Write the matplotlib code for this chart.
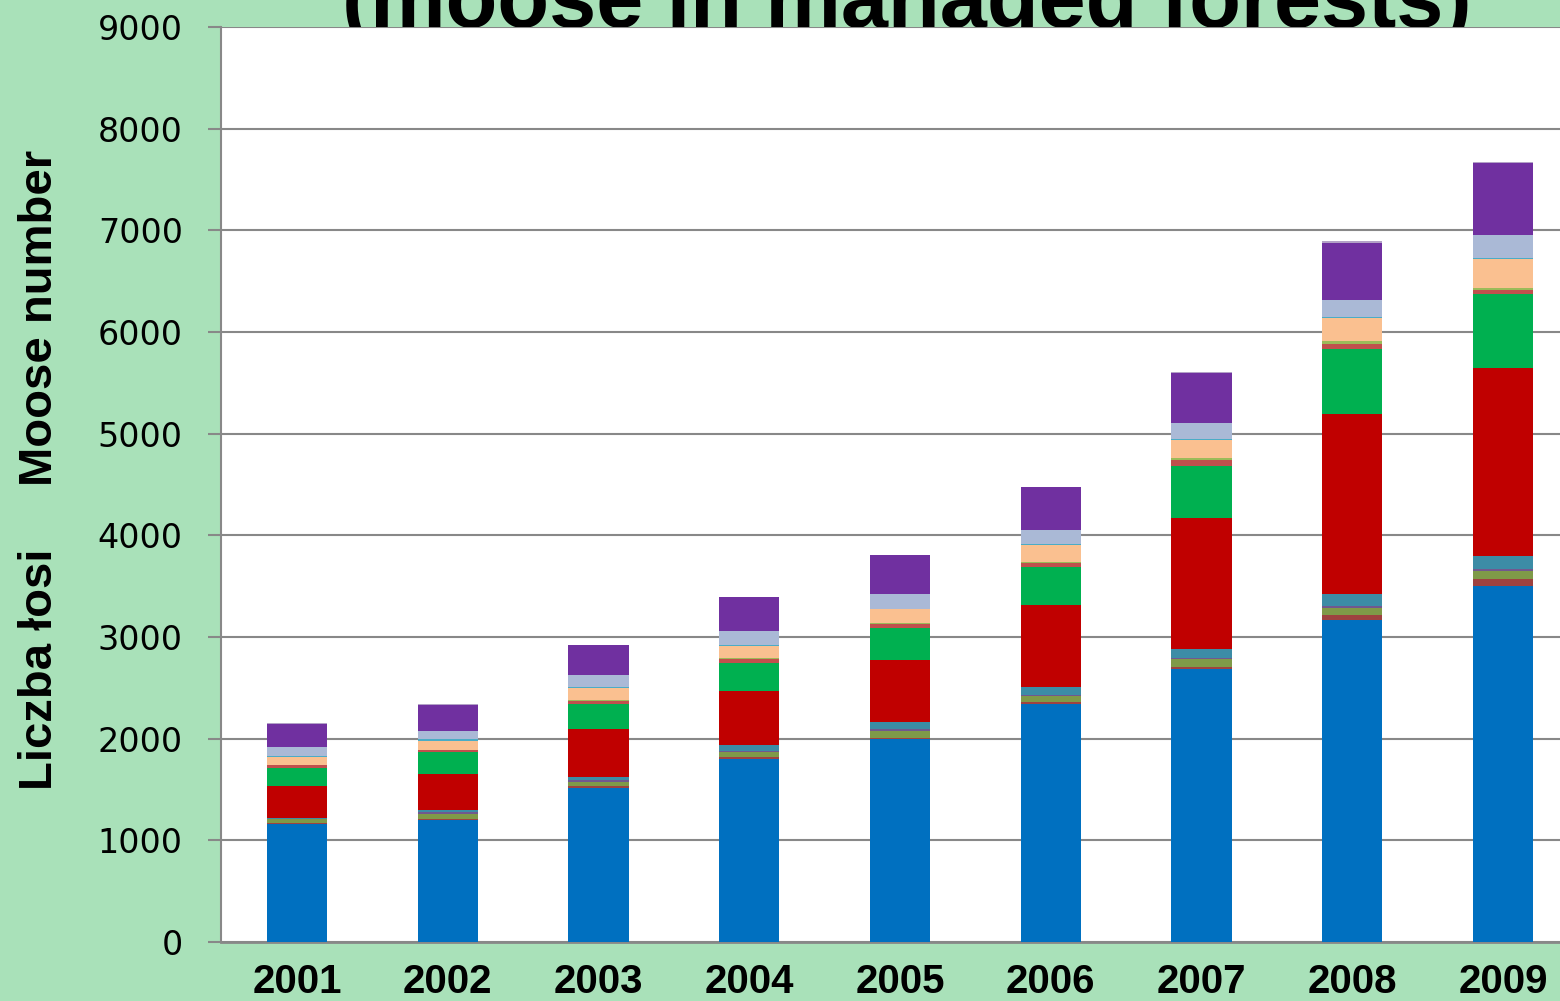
import numpy as np
from matplotlib import pyplot as plt

years = ['2001', '2002', '2003', '2004', '2005', '2006', '2007', '2008', '2009']

# series from bottom to top of each stack
blue = [1160, 1200, 1518, 1800, 1993, 2344, 2682, 3167, 3505]
brownred = [15, 13, 20, 20, 16, 20, 23, 46, 65]
olive = [30, 46, 36, 49, 69, 56, 78, 72, 79]
violet = [5, 20, 19, 10, 20, 9, 14, 20, 20]
teal = [12, 19, 30, 59, 69, 79, 85, 118, 131]
red = [311, 354, 472, 531, 607, 807, 1288, 1774, 1849]
green = [181, 220, 246, 275, 318, 373, 512, 636, 728]
rust = [26, 16, 33, 39, 39, 40, 59, 49, 39]
lime = [5, 5, 9, 13, 10, 13, 19, 29, 20]
peach = [79, 84, 115, 115, 134, 164, 178, 227, 282]
cyan = [9, 20, 10, 10, 5, 10, 9, 9, 7]
lavender = [82, 78, 118, 138, 143, 137, 158, 168, 229]
purple = [233, 256, 295, 334, 383, 423, 492, 560, 708]
lilac = [10, 10, 5, 5, 5, 5, 9, 20, 10]

series = [blue, brownred, olive, violet, teal, red, green, rust, lime,
          peach, cyan, lavender, purple, lilac]
colors = ['#0070C0', '#9E4240', '#7F9A48', '#71588F', '#3C8CA6', '#C00000',
          '#00B050', '#C0504D', '#9BBB59', '#FAC090', '#4BACC6', '#AAB9D6',
          '#7030A0', '#B3A2C7']

bold_font = 'Liberation Sans'
bg = '#A9E1B9'
fig = plt.figure(figsize=(15.6, 10.01), dpi=100, facecolor=bg)
ax = fig.add_axes([221 / 1560, 1 - 942 / 1001, 1 - 221 / 1560, (942 - 27) / 1001])
ax.set_facecolor('white')

x = np.arange(len(years))
bottom = np.zeros(len(years))
for vals, c in zip(series, colors):
    ax.bar(x, vals, 0.4, bottom=bottom, color=c, linewidth=0, zorder=3)
    bottom += np.array(vals)

ax.set_xlim(-0.504, 8.378)
ax.set_ylim(0, 9000)
ax.set_yticks(range(0, 9001, 1000))
ax.set_xticks(x)
ax.set_xticklabels(years, fontfamily=bold_font, fontweight='bold', fontsize=29)
ax.tick_params(axis='x', length=0, pad=15)
ax.tick_params(axis='y', direction='out', length=9.5, width=1.5, color='#888888',
               pad=18, labelsize=24)
ax.grid(axis='y', color='#888888', linewidth=1.5, zorder=1)
ax.set_axisbelow(True)
for s in ['top', 'right']:
    ax.spines[s].set_visible(False)
ax.spines['left'].set_color('#888888')
ax.spines['left'].set_linewidth(1.5)
ax.spines['bottom'].set_color('#888888')
ax.spines['bottom'].set_linewidth(2)

fig.text(40 / 1560, 1 - 669 / 1001, 'Liczba łosi', rotation=90, ha='center', va='center',
         fontfamily=bold_font, fontweight='bold', fontsize=34)
fig.text(40 / 1560, 1 - 318 / 1001, 'Moose number', rotation=90, ha='center', va='center',
         fontfamily=bold_font, fontweight='bold', fontsize=34)
fig.text(907 / 1560, 1 - 27 / 1001, '(moose in managed forests)', ha='center', va='baseline',
         fontfamily=bold_font, fontweight='bold', fontsize=61, zorder=-1)

plt.savefig('out.png', dpi=100, facecolor=bg)
